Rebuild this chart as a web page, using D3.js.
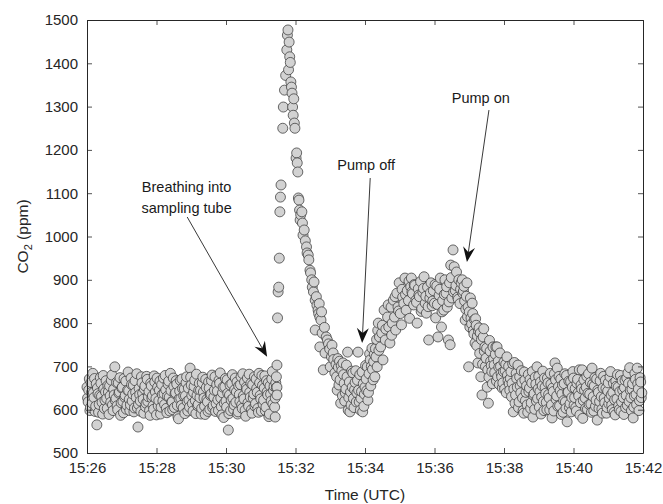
<!DOCTYPE html>
<html><head><meta charset="utf-8">
<script src="https://cdn.jsdelivr.net/npm/d3@7"></script>
<style>body{margin:0;background:#fff}svg{display:block}text{font-family:"Liberation Sans",Arial,sans-serif}</style>
</head><body>
<svg id="chart" width="663" height="504"></svg>
<script>
// [seconds after 15:26:00 UTC, CO2 ppm]
const baseline = [[0,652],[2,618],[4,671],[6,605],[8,640],[10,684],[12,628],[14,596],[16,660],[17,565],[19,637],[21,612],[23,674],[25,631],[27,590],[29,648],[31,622],[33,667],[35,603],[37,641],[39,655],[41,617],[43,680],[45,598],[47,634],[48,699],[50,626],[52,609],[54,662],[56,641],[58,587],[60,650],[62,619],[64,672],[66,633],[68,601],[70,645],[71,687],[73,624],[75,611],[77,658],[79,636],[81,595],[83,667],[85,628],[87,604],[88,560],[90,649],[92,620],[94,676],[96,638],[98,592],[100,655],[102,615],[104,670],[106,630],[108,598],[110,661],[112,627],[114,609],[116,678],[118,641],[120,588],[122,652],[124,621],[126,666],[128,606],[130,635],[132,673],[134,612],[136,646],[138,593],[140,659],[142,629],[144,684],[146,618],[148,600],[150,654],[152,637],[154,667],[156,610],[158,579],[160,643],[162,626],[164,671],[166,604],[168,648],[170,632],[172,676],[174,597],[176,622],[178,696],[180,657],[182,614],[184,640],[186,668],[188,591],[190,633],[192,612],[194,661],[196,645],[198,603],[200,675],[202,627],[204,589],[206,651],[208,618],[210,664],[212,601],[214,636],[216,680],[218,610],[220,645],[222,596],[224,658],[226,623],[228,668],[230,685],[232,607],[234,639],[236,582],[238,653],[240,620],[242,669],[244,553],[246,634],[248,598],[250,660],[252,626],[254,611],[256,673],[258,641],[260,590],[262,655],[264,619],[266,676],[268,603],[270,632],[272,664],[274,585],[276,647],[278,616],[280,682],[282,629],[284,600],[286,658],[288,636],[290,608],[292,671],[294,640],[296,594],[298,662],[300,625],[302,679],[304,613],[306,650],[308,598],[310,667],[312,634],[314,584],[316,655],[318,620],[320,688],[322,645],[324,606],[325,583],[326,662],[327,676],[328,703],[328,652],[328,634]];
const baselineB = [[1,627],[3,645],[5,598],[7,663],[9,615],[11,639],[13,672],[15,608],[18,650],[20,594],[22,633],[24,661],[26,617],[28,679],[30,603],[32,641],[34,626],[36,656],[38,589],[40,632],[42,668],[44,611],[46,647],[49,621],[51,663],[53,600],[55,638],[57,674],[59,616],[61,652],[63,593],[65,629],[67,666],[69,610],[72,644],[74,598],[76,673],[78,620],[80,657],[82,604],[84,640],[86,683],[89,612],[91,635],[93,596],[95,662],[97,624],[99,648],[101,607],[103,677],[105,619],[107,642],[109,587],[111,655],[113,632],[115,601],[117,664],[119,626],[121,673],[123,609],[125,645],[127,590],[129,658],[131,620],[133,637],[135,679],[137,603],[139,631],[141,666],[143,597],[145,644],[147,618],[149,673],[151,605],[153,639],[155,659],[157,584],[159,625],[161,668],[163,610],[165,649],[167,632],[169,591],[171,662],[173,619],[175,650],[177,606],[179,675],[181,633],[183,597],[185,654],[187,621],[189,682],[191,609],[193,645],[195,628],[197,590],[199,662],[201,641],[203,608],[205,670],[207,624],[209,596],[211,650],[213,633],[215,667],[217,605],[219,629],[221,676],[223,614],[225,643],[227,598],[229,661],[231,627],[233,588],[235,652],[237,615],[239,672],[241,606],[243,638],[245,591],[247,657],[249,622],[251,681],[253,601],[255,646],[257,617],[259,664],[261,595],[263,635],[265,658],[267,611],[269,683],[271,625],[273,599],[275,652],[277,673],[279,608],[281,640],[283,661],[285,592],[287,627],[289,676],[291,614],[293,649],[295,603],[297,684],[299,633],[301,597],[303,656],[305,622],[307,678],[309,606],[311,641],[313,662],[315,590],[317,636],[319,671],[321,613],[323,654],[325,627],[327,651]];
const spike = [[329,812],[330,872],[331,883],[332,950],[333,1057],[334,1091],[335,1119],[338,1250],[339,1299],[341,1338],[343,1372],[345,1431],[346,1465],[347,1477],[348,1385],[349,1449],[350,1415],[351,1402],[352,1357],[353,1345],[354,1331],[355,1299],[356,1280],[357,1318],[358,1262],[359,1250],[361,1181],[362,1193],[363,1170],[364,1149],[365,1089],[366,1084],[367,1061],[368,1038],[369,1050],[371,1057],[372,1031],[373,1003],[375,1015],[377,990],[379,976],[380,962],[382,957],[383,946],[385,922],[386,916],[388,900],[389,883],[391,872],[392,895],[394,853],[396,861],[397,841],[399,830],[400,822],[401,845],[402,814],[404,807],[405,826]];
const trough = [[394,784],[402,745],[406,777],[408,692],[410,790],[411,731],[413,768],[415,761],[417,752],[419,740],[420,699],[422,722],[423,749],[425,731],[426,716],[428,685],[430,705],[432,645],[434,698],[436,712],[437,669],[438,615],[440,690],[442,708],[444,661],[446,639],[447,648],[449,676],[450,733],[451,599],[452,628],[454,595],[456,611],[458,652],[459,685],[460,626],[463,663],[466,639],[468,733],[470,618],[472,599],[474,642],[475,687],[476,595],[478,608],[480,652],[482,671],[484,699],[485,622],[486,640],[489,715],[490,655],[493,693],[494,669],[496,728],[497,676],[498,741],[500,762],[501,699],[502,783]];
const troughB = [[431,676],[433,718],[435,657],[439,702],[441,632],[443,681],[445,620],[448,703],[453,664],[455,641],[457,689],[461,605],[462,646],[464,690],[465,618],[467,668],[469,645],[471,681],[473,626],[477,660],[479,636],[481,702],[483,644],[487,683],[488,729],[491,700],[492,742],[495,711],[499,722]];
const hump = [[503,800],[504,737],[505,768],[507,745],[509,777],[510,795],[511,715],[513,830],[515,761],[516,786],[519,814],[520,842],[521,791],[523,754],[525,837],[526,772],[527,800],[529,853],[531,814],[532,861],[533,784],[535,869],[537,837],[538,828],[539,893],[541,822],[543,796],[544,878],[545,860],[547,845],[549,904],[550,866],[551,830],[553,875],[555,852],[556,897],[557,811],[559,884],[560,904],[561,872],[562,868],[564,842],[565,889],[566,887],[568,853],[569,848],[570,800],[572,879],[573,865],[574,861],[576,896],[577,827],[578,834],[580,871],[581,880],[582,907],[584,846],[585,862],[586,823],[588,883],[589,838],[590,761],[592,858],[593,870],[594,893],[596,840],[597,851],[598,875],[600,846],[601,889],[602,812],[604,886],[605,843],[606,768],[608,864],[609,878],[610,904],[612,791],[613,826],[614,852],[616,830],[617,866],[618,900],[620,869],[621,884],[622,837],[624,761],[625,849],[626,893],[627,750],[628,934],[629,905],[630,858],[632,969],[633,872],[634,930],[636,875],[637,887],[638,918],[640,860],[641,855],[642,900],[644,845],[645,878],[646,893]];
const decay = [[648,900],[649,869],[650,874],[652,851],[653,807],[655,862],[656,893],[658,837],[659,699],[660,826],[661,791],[663,812],[665,846],[667,783],[669,808],[670,754],[672,795],[674,770],[675,708],[677,789],[679,777],[680,676],[682,634],[684,768],[686,735],[687,745],[689,719],[691,652],[692,692],[693,615],[695,760],[697,712],[699,688],[701,745],[703,703],[705,728],[707,666],[708,745],[709,676],[711,698],[713,731],[715,684],[717,650],[718,662],[720,710],[722,690],[724,639],[725,722],[727,667],[728,700]];
const decayB = [[651,885],[654,832],[657,815],[662,858],[664,798],[666,822],[668,775],[671,810],[673,748],[676,782],[678,730],[681,762],[683,705],[685,787],[688,700],[690,742],[694,675],[696,735],[698,702],[700,660],[702,718],[704,686],[706,745],[710,712],[712,658],[714,700],[716,676],[719,688],[721,648],[723,705],[726,680],[729,660]];
const tail = [[730,645],[732,688],[734,661],[736,595],[738,709],[740,634],[742,672],[744,703],[746,618],[748,655],[750,690],[752,627],[754,592],[756,668],[758,640],[760,611],[762,681],[764,650],[766,603],[768,662],[770,583],[772,637],[774,675],[776,620],[777,699],[779,648],[781,606],[783,664],[785,629],[787,689],[789,598],[791,652],[793,617],[795,673],[797,635],[799,600],[801,659],[803,581],[805,642],[807,683],[808,708],[810,624],[812,696],[814,653],[816,609],[818,671],[820,636],[822,594],[824,660],[826,618],[828,679],[829,572],[831,641],[833,605],[835,665],[837,628],[839,688],[841,610],[843,649],[845,597],[847,670],[849,632],[851,588],[853,657],[855,692],[857,621],[859,645],[861,603],[863,677],[865,638],[867,612],[869,663],[871,594],[872,696],[874,630],[876,655],[878,608],[880,671],[881,576],[883,640],[885,619],[887,684],[889,601],[891,650],[893,627],[895,668],[897,592],[899,643],[901,614],[903,676],[905,634],[907,600],[909,661],[911,623],[912,588],[914,654],[916,681],[918,609],[920,642],[922,596],[924,667],[926,628],[928,651],[930,605],[932,673],[934,685],[936,619],[938,645],[940,598],[942,660],[943,581],[945,632],[947,670],[949,612],[950,696],[952,648],[954,621],[956,664],[958,639]];
const tailB = [[731,672],[733,630],[735,706],[737,648],[739,615],[741,684],[743,652],[745,605],[747,676],[749,639],[751,663],[753,598],[755,687],[757,621],[759,655],[761,594],[763,642],[765,670],[767,616],[769,688],[771,633],[773,601],[775,659],[778,626],[780,677],[782,642],[784,590],[786,655],[788,619],[790,673],[792,638],[794,600],[796,662],[798,627],[800,684],[802,611],[804,650],[806,597],[809,669],[811,632],[813,608],[815,677],[817,644],[819,589],[821,657],[823,621],[825,683],[827,603],[830,640],[832,666],[834,614],[836,595],[838,652],[840,673],[842,628],[844,605],[846,661],[848,639],[850,692],[852,616],[854,648],[856,580],[858,669],[860,627],[862,652],[864,601],[866,683],[868,636],[870,613],[873,659],[875,597],[877,674],[879,622],[882,645],[884,603],[886,667],[888,630],[890,592],[892,677],[894,616],[896,649],[898,605],[900,662],[902,626],[904,688],[906,611],[908,640],[910,594],[913,666],[915,625],[917,652],[919,600],[921,679],[923,618],[925,645],[927,589],[929,668],[931,633],[933,610],[935,661],[937,697],[939,628],[941,647],[944,606],[946,684],[948,635],[951,660],[953,598],[955,674],[957,628]];

const yTicks = [500,600,700,800,900,1000,1100,1200,1300,1400,1500];
const xTickLabels = ["15:26","15:28","15:30","15:32","15:34","15:36","15:38","15:40","15:42"];
// annotation text anchor and arrows: [seconds, ppm] of tail start and tip
const annotations = [
  {lines:["Breathing into","sampling tube"], text:[172,1103], from:[173,1045], to:[311,722]},
  {lines:["Pump off"], text:[482,1154], from:[489,1135], to:[475,754]},
  {lines:["Pump on"], text:[680,1308], from:[694,1292], to:[656,941]}
];

const W = 663, H = 504;
const m = {top:20, right:20, bottom:51, left:87};
const t0 = Date.UTC(2020,0,1,15,26,0);
const toDate = s => new Date(t0 + s*1000);
const x = d3.scaleUtc().domain([toDate(0), toDate(960)]).range([m.left, W - m.right]);
const y = d3.scaleLinear().domain([500,1500]).range([H - m.bottom, m.top]);

const svg = d3.select("#chart");
const axisColor = "#262626";
const xTickVals = xTickLabels.map(l => { const [h,mm] = l.split(":").map(Number); return new Date(Date.UTC(2020,0,1,h,mm,0)); });
const fmt = d3.utcFormat("%H:%M");

const data = [].concat(baseline, baselineB, spike, trough, troughB, hump, decay, decayB, tail, tailB)
  .sort((a,b) => a[0]-b[0]);
svg.append("g").selectAll("circle").data(data).join("circle")
  .attr("cx", d => x(toDate(d[0]))).attr("cy", d => y(d[1])).attr("r", 5)
  .attr("fill", "#d2d2d2").attr("stroke", "#3a3a3a").attr("stroke-width", 0.75);

function styleAxis(g, hideLabels){
  g.select(".domain").attr("stroke", axisColor).attr("stroke-width", 1);
  g.selectAll(".tick line").attr("stroke", axisColor).attr("stroke-width", 0.8);
  g.selectAll("text").attr("fill", axisColor).attr("font-size", 15).attr("font-family", "Liberation Sans, Arial, sans-serif");
  if (hideLabels) g.selectAll("text").remove();
}
svg.append("g").attr("transform", `translate(0,${H - m.bottom})`)
  .call(d3.axisBottom(x).tickValues(xTickVals).tickFormat(fmt).tickSize(-5).tickSizeOuter(0).tickPadding(9))
  .call(g => styleAxis(g, false));
svg.append("g").attr("transform", `translate(0,${m.top})`)
  .call(d3.axisTop(x).tickValues(xTickVals).tickSize(-5).tickSizeOuter(0))
  .call(g => styleAxis(g, true));
svg.append("g").attr("transform", `translate(${m.left},0)`)
  .call(d3.axisLeft(y).tickValues(yTicks).tickFormat(d3.format("d")).tickSize(-5).tickSizeOuter(0).tickPadding(9))
  .call(g => styleAxis(g, false));
svg.append("g").attr("transform", `translate(${W - m.right},0)`)
  .call(d3.axisRight(y).tickValues(yTicks).tickSize(-5).tickSizeOuter(0))
  .call(g => styleAxis(g, true));

// annotations
const annG = svg.append("g");
annotations.forEach(a => {
  const x1 = x(toDate(a.from[0])), y1 = y(a.from[1]);
  const x2 = x(toDate(a.to[0])), y2 = y(a.to[1]);
  const ang = Math.atan2(y2 - y1, x2 - x1);
  const L = 15, hw = 6, notch = 10;
  annG.append("line").attr("x1", x1).attr("y1", y1)
    .attr("x2", x2 - Math.cos(ang)*notch).attr("y2", y2 - Math.sin(ang)*notch)
    .attr("stroke", "#222").attr("stroke-width", 0.9);
  annG.append("path")
    .attr("d", `M0,0 L${-L},${-hw} L${-notch},0 L${-L},${hw} Z`)
    .attr("transform", `translate(${x2},${y2}) rotate(${ang*180/Math.PI})`)
    .attr("fill", "#111");
  const tx = x(toDate(a.text[0])), ty = y(a.text[1]);
  const t = annG.append("text").attr("text-anchor","middle").attr("font-size",14.5).attr("fill","#1a1a1a")
    .attr("x", tx).attr("y", ty);
  a.lines.forEach((ln,j) => t.append("tspan").attr("x", tx).attr("dy", j ? 21 : 0).text(ln));
});

// axis titles
svg.append("text").attr("x", (m.left + W - m.right)/2).attr("y", 500).attr("text-anchor","middle")
  .attr("font-size", 15.5).attr("fill", axisColor).text("Time (UTC)");
const yl = svg.append("text").attr("transform", `translate(28,${(m.top + H - m.bottom)/2}) rotate(-90)`)
  .attr("text-anchor","middle").attr("font-size", 15.5).attr("fill", axisColor);
yl.append("tspan").text("CO");
yl.append("tspan").attr("font-size", 11).attr("dy", 4).text("2");
yl.append("tspan").attr("dy", -4).text(" (ppm)");
</script>
</body></html>
